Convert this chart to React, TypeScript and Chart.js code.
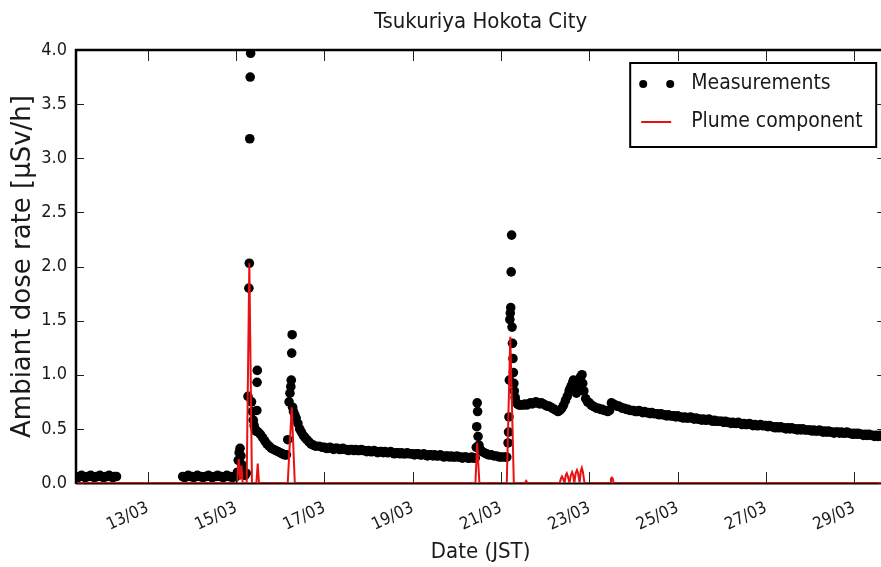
import { useEffect, useRef } from "react";
import { Chart, registerables } from "chart.js";

Chart.register(...registerables);

const TITLE = "Tsukuriya Hokota City";
const X_TITLE = "Date (JST)";
const Y_TITLE = "Ambiant dose rate [µSv/h]";
const MEAS_LABEL = "Measurements";
const PLUME_LABEL = "Plume component";

// Time axis in fractional day-of-March (JST)
const DAY_MIN = 11.375;
const DAY_MAX = 29.7;
const xTickDays = [13, 15, 17, 19, 21, 23, 25, 27, 29];
const Y_MIN = 0;
const Y_MAX = 4;
const Y_STEP = 0.5;

// Hourly readings: start day + values
const STEP_DAYS = 1 / 24;

const bgStart1 = 11.375; // 11/03 09:00
const bgDose1 = [
  0.06, 0.05, 0.06, 0.07, 0.06, 0.05, 0.06, 0.06, 0.07, 0.06, 0.05, 0.06,
  0.06, 0.07, 0.06, 0.05, 0.06, 0.06, 0.07, 0.06, 0.05, 0.06, 0.06,
];

const bgStart2 = 13 + 19 / 24; // 13/03 19:00
const bgDose2 = [
  0.06, 0.05, 0.06, 0.07, 0.06, 0.06, 0.05, 0.06, 0.07, 0.06, 0.06, 0.05,
  0.06, 0.06, 0.07, 0.06, 0.05, 0.06, 0.06, 0.07, 0.06, 0.06, 0.05, 0.06,
  0.07, 0.06, 0.06, 0.05, 0.06,
];

// 15/03 - 16/03 plume passages (irregular timestamps)
const event1Days = [
  15.0, 15.03, 15.05, 15.07, 15.09, 15.11, 15.13, 15.15, 15.17, 15.2, 15.23,
  15.27, 15.29, 15.3, 15.31, 15.32, 15.33, 15.35, 15.37, 15.39, 15.41, 15.43, 15.45,
  15.47, 15.475, 15.48, 15.5, 15.55, 15.6, 15.65, 15.7, 15.75, 15.8, 15.85, 15.9, 15.95,
  16.0, 16.05, 16.1, 16.14, 16.17, 16.2, 16.22, 16.24, 16.25, 16.26, 16.27, 16.28, 16.3,
  16.33, 16.36, 16.4, 16.44, 16.48, 16.52, 16.56, 16.6, 16.65, 16.7, 16.75, 16.8, 16.88, 16.95,
];
const event1Dose = [
  0.06, 0.1, 0.21, 0.28, 0.32, 0.25, 0.17, 0.12, 0.08, 0.07, 0.09,
  0.8, 1.8, 2.03, 3.18, 3.75, 3.97, 0.75, 0.66, 0.58, 0.53, 0.5, 0.48,
  0.67, 0.93, 1.04, 0.47, 0.45, 0.42, 0.39, 0.36, 0.34, 0.32, 0.31, 0.3, 0.29,
  0.28, 0.27, 0.26, 0.26, 0.4, 0.75, 0.83, 0.89, 0.95, 1.2, 1.37, 0.7, 0.66,
  0.63, 0.6, 0.55, 0.5, 0.47, 0.44, 0.42, 0.4, 0.38, 0.36, 0.35, 0.34, 0.34, 0.33,
];

const decayStart = 17.0; // 17/03 00:00
const decayDose = [
  // 17/03
  0.33, 0.32, 0.32, 0.33, 0.32, 0.31, 0.32, 0.32, 0.31, 0.31, 0.32, 0.31,
  0.31, 0.3, 0.31, 0.31, 0.3, 0.31, 0.3, 0.3, 0.31, 0.3, 0.3, 0.29,
  // 18/03
  0.3, 0.29, 0.29, 0.3, 0.29, 0.28, 0.29, 0.29, 0.28, 0.29, 0.28, 0.28,
  0.29, 0.28, 0.27, 0.28, 0.28, 0.27, 0.28, 0.27, 0.27, 0.28, 0.27, 0.27,
  // 19/03
  0.27, 0.26, 0.27, 0.27, 0.26, 0.26, 0.27, 0.26, 0.25, 0.26, 0.26, 0.25,
  0.26, 0.25, 0.25, 0.26, 0.25, 0.24, 0.25, 0.25, 0.24, 0.25, 0.24, 0.24,
  // 20/03 00:00 - 10:00
  0.25, 0.24, 0.24, 0.23, 0.24, 0.24, 0.23, 0.23, 0.24, 0.23, 0.23,
];

// 20/03 - 21/03 plume passages
const event2Days = [
  20.44, 20.45, 20.46, 20.47, 20.48, 20.5, 20.53, 20.57, 20.62, 20.67, 20.72, 20.78,
  20.84, 20.9, 20.96, 21.02, 21.08, 21.13, 21.16, 21.17, 21.18, 21.19, 21.2, 21.21,
  21.22, 21.23, 21.24, 21.25, 21.26, 21.27, 21.28, 21.29, 21.3, 21.32, 21.34, 21.37,
  21.41, 21.45,
];
const event2Dose = [
  0.33, 0.52, 0.74, 0.66, 0.43, 0.35, 0.31, 0.29, 0.28, 0.27, 0.26, 0.26,
  0.25, 0.25, 0.24, 0.24, 0.24, 0.24, 0.37, 0.47, 0.61, 0.95, 1.51, 1.57,
  1.62, 1.95, 2.29, 1.44, 1.29, 1.15, 1.02, 0.92, 0.85, 0.79, 0.75, 0.73,
  0.72, 0.72,
];

const tailStart = 21.5; // 21/03 12:00
const tailDose = [
  // 21/03 12:00 - 23:00
  0.72, 0.73, 0.72, 0.73, 0.74, 0.73, 0.74, 0.75, 0.74, 0.73, 0.74, 0.73,
  // 22/03
  0.72, 0.71, 0.71, 0.7, 0.69, 0.68, 0.67, 0.66, 0.67, 0.69, 0.72, 0.76,
  0.8, 0.84, 0.89, 0.93, 0.88, 0.83, 0.88, 0.96, 1.0, 0.85, 0.78, 0.75,
  // 23/03
  0.74, 0.72, 0.71, 0.7, 0.69, 0.69, 0.68, 0.68, 0.67, 0.67, 0.66, 0.67,
  0.74, 0.73, 0.72, 0.71, 0.71, 0.7, 0.69, 0.69, 0.68, 0.68, 0.67, 0.67,
  // 24/03
  0.67, 0.66, 0.66, 0.67, 0.66, 0.65, 0.66, 0.65, 0.65, 0.64, 0.65, 0.64,
  0.64, 0.64, 0.63, 0.64, 0.63, 0.63, 0.62, 0.63, 0.62, 0.62, 0.62, 0.61,
  // 25/03
  0.62, 0.61, 0.61, 0.6, 0.61, 0.6, 0.6, 0.61, 0.6, 0.59, 0.6, 0.59,
  0.59, 0.58, 0.59, 0.58, 0.58, 0.59, 0.58, 0.57, 0.58, 0.57, 0.57, 0.57,
  // 26/03
  0.57, 0.56, 0.57, 0.56, 0.56, 0.55, 0.56, 0.55, 0.55, 0.56, 0.55, 0.54,
  0.55, 0.54, 0.54, 0.55, 0.54, 0.53, 0.54, 0.53, 0.53, 0.54, 0.53, 0.53,
  // 27/03
  0.53, 0.52, 0.53, 0.52, 0.52, 0.51, 0.52, 0.51, 0.52, 0.51, 0.51, 0.5,
  0.51, 0.5, 0.51, 0.5, 0.5, 0.49, 0.5, 0.49, 0.5, 0.49, 0.49, 0.49,
  // 28/03
  0.49, 0.48, 0.49, 0.48, 0.48, 0.49, 0.48, 0.47, 0.48, 0.47, 0.48, 0.47,
  0.47, 0.46, 0.47, 0.47, 0.46, 0.47, 0.46, 0.46, 0.47, 0.46, 0.46, 0.45,
  // 29/03 00:00 - 16:00
  0.46, 0.45, 0.46, 0.45, 0.45, 0.44, 0.45, 0.44, 0.45, 0.44, 0.44, 0.43,
  0.44, 0.43, 0.44, 0.43, 0.43,
];

// extra readings around the 22/03 rise
const bumpDays = [22.55, 22.6, 22.64, 22.8, 22.85];
const bumpDose = [0.86, 0.9, 0.95, 0.98, 0.92];

// Plume component (model)
const plumeDays = [
  11.375, 15.02, 15.06, 15.09, 15.12, 15.15, 15.24, 15.3, 15.36, 15.46, 15.49, 15.52,
  16.17, 16.26, 16.33, 20.42, 20.46, 20.51, 21.13, 21.21, 21.29, 21.54, 21.57, 21.6,
  22.33, 22.355, 22.38, 22.405, 22.44, 22.465, 22.49, 22.515, 22.55,
  22.58, 22.61, 22.635, 22.66, 22.69, 22.72, 22.745, 22.78, 22.805, 22.83, 22.855, 22.89,
  23.47, 23.49, 23.51, 23.53, 23.55, 29.7,
];
const plumeDose = [
  0, 0, 0.22, 0.03, 0.16, 0, 0, 2.03, 0, 0, 0.18, 0,
  0, 0.7, 0, 0, 0.37, 0, 0, 1.35, 0, 0, 0.02, 0,
  0, 0.04, 0.06, 0.04, 0, 0.07, 0.09, 0.06, 0,
  0.07, 0.1, 0.07, 0, 0.09, 0.12, 0.09, 0, 0.11, 0.14, 0.1, 0,
  0, 0.04, 0.05, 0.04, 0, 0,
];

type Pt = { x: number; y: number };
const regular = (start: number, values: number[]): Pt[] =>
  values.map((v, i) => ({ x: start + i * STEP_DAYS, y: v }));
const paired = (days: number[], values: number[]): Pt[] =>
  days.map((d, i) => ({ x: d, y: values[i] }));

const measurementPoints: Pt[] = [
  ...regular(bgStart1, bgDose1),
  ...regular(bgStart2, bgDose2),
  ...paired(event1Days, event1Dose),
  ...regular(decayStart, decayDose),
  ...paired(event2Days, event2Dose),
  ...regular(tailStart, tailDose),
  ...paired(bumpDays, bumpDose),
];
const plumePoints: Pt[] = paired(plumeDays, plumeDose);

const COND = "'DejaVu Sans Condensed', 'DejaVu Sans', sans-serif";
const TEXT = "#1a1a1a";

const frameAndLegend = {
  id: "frameAndLegend",
  beforeDatasetsDraw(chart: any) {
    const { ctx, chartArea: a } = chart;
    ctx.save();
    ctx.strokeStyle = "#000";
    ctx.lineWidth = 2;
    ctx.beginPath();
    ctx.moveTo(a.left, a.bottom + 0.5);
    ctx.lineTo(a.right, a.bottom + 0.5);
    ctx.stroke();
    ctx.restore();
  },
  afterDatasetsDraw(chart: any) {
    const { ctx, chartArea: a, scales } = chart;
    const xs = scales.x;
    const ys = scales.y;
    ctx.save();
    // inward tick marks on all four sides
    ctx.strokeStyle = "#222";
    ctx.lineWidth = 1;
    ctx.beginPath();
    for (const t of xs.ticks) {
      const px = Math.round(xs.getPixelForValue(t.value)) + 0.5;
      ctx.moveTo(px, a.bottom);
      ctx.lineTo(px, a.bottom - 11);
      ctx.moveTo(px, a.top);
      ctx.lineTo(px, a.top + 11);
    }
    for (const t of ys.ticks) {
      const py = Math.round(ys.getPixelForValue(t.value)) + 0.5;
      ctx.moveTo(a.left, py);
      ctx.lineTo(a.left + 8, py);
      ctx.moveTo(a.right, py);
      ctx.lineTo(a.right - 8, py);
    }
    ctx.stroke();
    // top / left / right spines
    ctx.strokeStyle = "#000";
    ctx.lineWidth = 2.5;
    ctx.beginPath();
    ctx.moveTo(a.left, a.bottom + 1);
    ctx.lineTo(a.left, a.top);
    ctx.lineTo(a.right, a.top);
    ctx.lineTo(a.right, a.bottom + 1);
    ctx.stroke();

    // title centred over the plot
    ctx.fillStyle = TEXT;
    ctx.font = `22px ${COND}`;
    ctx.textAlign = "center";
    ctx.textBaseline = "middle";
    ctx.fillText(TITLE, (a.left + a.right) / 2, 22);

    // legend box
    const bw = 246;
    const bh = 84;
    const bx = a.right - 9 - bw;
    const by = a.top + 13;
    ctx.fillStyle = "#fff";
    ctx.fillRect(bx, by, bw, bh);
    ctx.strokeStyle = "#000";
    ctx.lineWidth = 2;
    ctx.strokeRect(bx, by, bw, bh);
    const ds = chart.data.datasets;
    const meas = ds.find((d: any) => d.label === MEAS_LABEL);
    const plume = ds.find((d: any) => d.label === PLUME_LABEL);
    const r1 = by + 21;
    const r2 = by + 59;
    ctx.fillStyle = meas.pointBackgroundColor;
    for (const dx of [13, 40]) {
      ctx.beginPath();
      ctx.arc(bx + dx, r1, 4, 0, Math.PI * 2);
      ctx.fill();
    }
    ctx.strokeStyle = plume.borderColor;
    ctx.lineWidth = 2;
    ctx.beginPath();
    ctx.moveTo(bx + 11, r2);
    ctx.lineTo(bx + 41, r2);
    ctx.stroke();
    ctx.fillStyle = TEXT;
    ctx.font = `21px ${COND}`;
    ctx.textAlign = "left";
    ctx.textBaseline = "middle";
    ctx.fillText(meas.label, bx + 61, r1);
    ctx.fillText(plume.label, bx + 61, r2);
    ctx.restore();
  },
};

export default function App() {
  const canvasRef = useRef<HTMLCanvasElement>(null);

  useEffect(() => {
    const canvas = canvasRef.current;
    if (!canvas) return;
    const chart = new Chart(canvas, {
      type: "scatter",
      data: {
        datasets: [
          {
            label: MEAS_LABEL,
            data: measurementPoints,
            showLine: false,
            pointRadius: 4.8,
            pointBorderWidth: 0,
            pointBackgroundColor: "#000",
            borderColor: "#000",
            clip: 0,
            order: 1,
          },
          {
            label: PLUME_LABEL,
            data: plumePoints,
            showLine: true,
            borderColor: "#e81010",
            borderWidth: 2,
            pointRadius: 0,
            tension: 0,
            clip: 0,
            order: 0,
          },
        ],
      },
      options: {
        responsive: false,
        animation: false,
        events: [],
        layout: { padding: { top: 50, right: 3, left: 0, bottom: 0 } },
        plugins: {
          legend: { display: false },
          tooltip: { enabled: false },
          title: { display: false },
        },
        scales: {
          x: {
            type: "linear",
            min: DAY_MIN,
            max: DAY_MAX,
            afterFit: (s: any) => {
              s.height = 84;
            },
            afterBuildTicks: (s: any) => {
              s.ticks = xTickDays.map((v) => ({ value: v }));
            },
            grid: { display: false, drawTicks: false },
            border: { display: false },
            ticks: {
              autoSkip: false,
              minRotation: 25,
              maxRotation: 25,
              padding: 15,
              color: TEXT,
              font: { family: COND, size: 17 },
              callback: (v: any) => `${String(v).padStart(2, "0")}/03`,
            },
            title: {
              display: true,
              text: X_TITLE,
              color: TEXT,
              font: { family: COND, size: 22 },
              padding: { top: 0, bottom: 2 },
            },
          },
          y: {
            min: Y_MIN,
            max: Y_MAX,
            afterFit: (s: any) => {
              s.width = 76;
            },
            grid: { display: false, drawTicks: false },
            border: { display: false },
            ticks: {
              stepSize: Y_STEP,
              padding: 9,
              color: TEXT,
              font: { family: COND, size: 18 },
              callback: (v: any) => Number(v).toFixed(1),
            },
            title: {
              display: true,
              text: Y_TITLE,
              color: TEXT,
              font: { family: "'DejaVu Sans', sans-serif", size: 26 },
              padding: { top: 8, bottom: 0 },
            },
          },
        },
      },
      plugins: [frameAndLegend],
    });
    return () => chart.destroy();
  }, []);

  return (
    <div
      style={{
        position: "fixed",
        left: 0,
        top: 0,
        width: 881,
        height: 567,
        overflow: "hidden",
        background: "#fff",
      }}
    >
      <canvas ref={canvasRef} width={890} height={567} style={{ display: "block" }} />
    </div>
  );
}
